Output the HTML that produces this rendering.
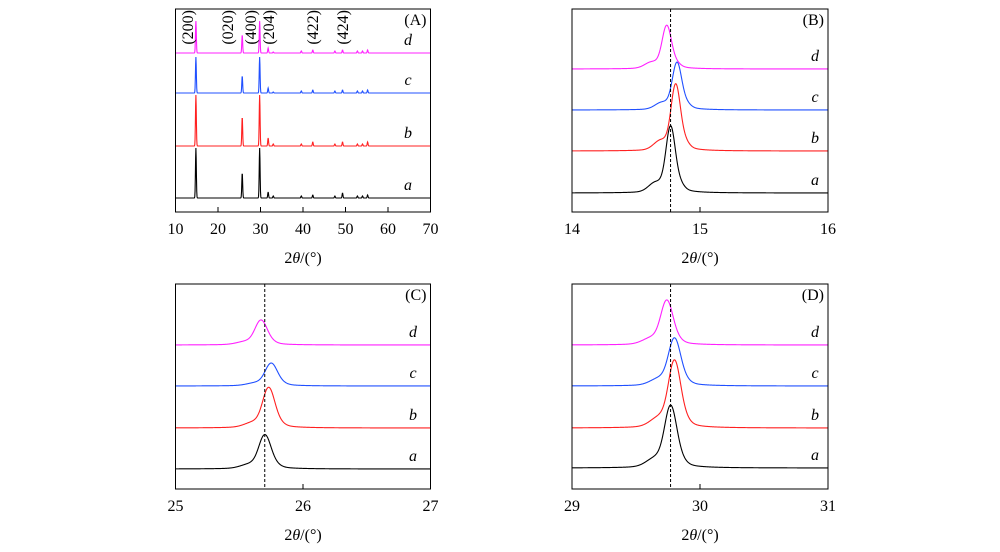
<!DOCTYPE html>
<html><head><meta charset="utf-8">
<style>
html,body{margin:0;padding:0;background:#fff;}
svg{display:block;font-family:"Liberation Serif",serif;}
</style></head>
<body>
<svg id="chart" width="1000" height="552" viewBox="0 0 1000 552" xmlns="http://www.w3.org/2000/svg"></svg>
<script>
// ---- data ----
const seriesNames = ["a","b","c","d"];
const seriesColors = ["#000000","#ff2020","#2050ff","#ff20ff"];
// Panel A (wide scan)
const peaksA = [14.8,25.7,29.8,31.8,33.0,39.6,42.3,47.5,49.3,52.8,54.0,55.2];
const heightsA = [
  [50,25,50,6,2,2,3,2,5,2,2,3],
  [51,29,51,8,2,2,4,2,4,2,2,4],
  [36,17,36,5,1,2,3,2,3,2,2,3],
  [32,18,32,5,1,2,3,2,3,2,2,3]
];
const offsetsA = [14,66,119,159];
const hklLabels = ["(200)","(020)","(400)","(204)","(422)","(424)"];
const hklPos = [12.7,22.1,27.5,31.8,42.1,49.2];
// Zoom panels: main peak centre, height, offset
const centersB = [14.77,14.81,14.82,14.74];
const heightsB = [66,66,47,43];
const offsetsB = [19,61,102,143];
const centersC = [25.70,25.73,25.75,25.67];
const heightsC = [33,39,22,24];
const offsetsC = [20,61,103,144];
const centersD = [29.77,29.80,29.80,29.74];
const heightsD = [60,65,46,43];
const offsetsD = [21,61,103,144];

const svg = document.getElementById('chart');
const NS = "http://www.w3.org/2000/svg";
function mk(tag, attrs, parent){
  const e = document.createElementNS(NS, tag);
  for (const k in attrs) e.setAttribute(k, attrs[k]);
  (parent||svg).appendChild(e);
  return e;
}
function txt(s, attrs, parent){ const t = mk('text', attrs, parent); t.textContent = s; return t; }

function panel(opt){
  const g = mk('g', {});
  
  
  const L=opt.x0, R=opt.x1, T=opt.y0, B=opt.y1;
  const xs = v => L + (v-opt.xmin)/(opt.xmax-opt.xmin)*(R-L);
  const ys = v => B - v;
  for (let s=0;s<4;s++){
    let d="";
    const n=900;
    for (let i=0;i<=n;i++){
      const x = opt.xmin + (opt.xmax-opt.xmin)*i/n;
      let y = opt.offsets[s] + opt.profile(s,x);
      d += (i?"L":"M")+xs(x).toFixed(2)+","+ys(y).toFixed(2);
    }
    const p = mk('path',{d:d,fill:"none",stroke:seriesColors[s],"stroke-width":1.1},g);
    
    
    const lb = txt(seriesNames[s],{x:opt.lblx,y:ys(opt.offsets[s])-8,"font-size":16,"font-style":"italic","text-anchor":"middle",fill:"#000"},g);
    
    
  }
  if (opt.dash!==undefined){
    const dl = mk('line',{x1:xs(opt.dash),x2:xs(opt.dash),y1:T,y2:B,stroke:"#000","stroke-width":1,"stroke-dasharray":"3,2"},g);
    
    
  }
  const fr = mk('rect',{x:L,y:T,width:R-L,height:B-T,fill:"none",stroke:"#000","stroke-width":1},g);
  
  
  opt.ticks.forEach(t=>{
    const tk = mk('line',{x1:xs(t),x2:xs(t),y1:B,y2:B-5,stroke:"#000","stroke-width":1},g);
    
    
  });
  opt.tickLabels.forEach(t=>{
    const tl = txt(String(t),{x:xs(t),y:B+22,"font-size":16,"text-anchor":"middle"},g);
    
    
  });
  const xt = mk('text',{x:(L+R)/2,y:B+51,"font-size":16,"text-anchor":"middle"},g);
  xt.innerHTML = '2<tspan font-style="italic">θ</tspan>/(°)';
  
  
  const pl = txt(opt.letter,{x:R-4,y:T+16,"font-size":16,"text-anchor":"end"},g);
  
  
  return {g,xs,ys};
}
function gauss(x,c,w){ return Math.exp(-((x-c)*(x-c))/(2*w*w)); }
function lor(x,c,w){ return 1/(1+((x-c)/w)*((x-c)/w)); }

const pA = panel({name:"panel-a",letter:"(A)",x0:175.5,x1:430.5,y0:9,y1:212,xmin:10,xmax:70,
  offsets:offsetsA,lblx:408,ticks:[20,30,40,50,60],tickLabels:[10,20,30,40,50,60,70],
  profile:(s,x)=>{let y=0;for(let k=0;k<peaksA.length;k++){y+=heightsA[s][k]*gauss(x,peaksA[k],0.1);}return y;}});
hklLabels.forEach((h,i)=>{
  const x = pA.xs(hklPos[i])+6;
  const t = txt(h,{x:x,y:10,"font-size":16,"text-anchor":"end",transform:`rotate(-90 ${x} 10)`},pA.g);
  
  
});
function zprof(centers,heights,w,sh){
  return (s,x)=>heights[s]*(0.85*gauss(x,centers[s],w)+0.15*lor(x,centers[s],w*2.5)+sh*gauss(x,centers[s]-0.12,w*1.5)+0.08*gauss(x,centers[s]+0.07,w));
}
panel({name:"panel-b",letter:"(B)",x0:572,x1:828,y0:9,y1:212,xmin:14,xmax:16,offsets:offsetsB,lblx:815,
  ticks:[15],tickLabels:[14,15,16],dash:14.77,profile:zprof(centersB,heightsB,0.035,0.12)});
panel({name:"panel-c",letter:"(C)",x0:175.5,x1:430.5,y0:284,y1:489,xmin:25,xmax:27,offsets:offsetsC,lblx:413,
  ticks:[26],tickLabels:[25,26,27],dash:25.70,profile:zprof(centersC,heightsC,0.045,0.1)});
panel({name:"panel-d",letter:"(D)",x0:572,x1:828,y0:284,y1:489,xmin:29,xmax:31,offsets:offsetsD,lblx:815,
  ticks:[30],tickLabels:[29,30,31],dash:29.77,profile:zprof(centersD,heightsD,0.045,0.12)});
</script>
</body></html>
